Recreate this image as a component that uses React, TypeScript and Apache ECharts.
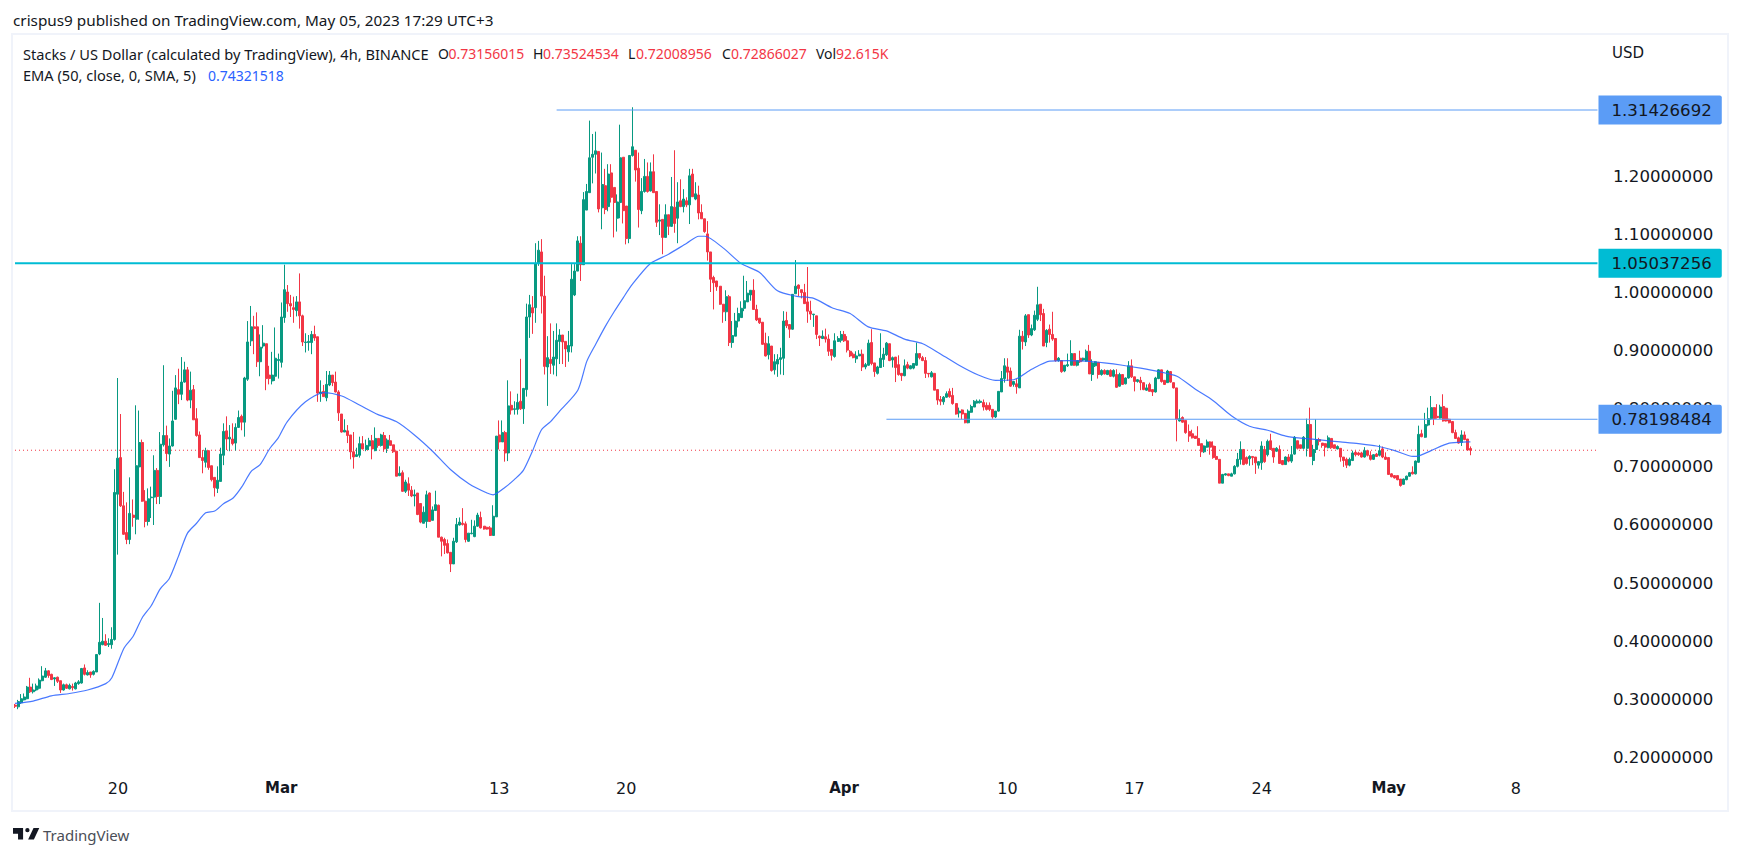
import React, { useEffect, useRef } from "react";
import * as echarts from "echarts";

// [open, close, low, high], one row for each 4h candle
const candlesFeb = [
[.290,.288,.285,.292],[.287,.296,.283,.299],[.294,.301,.292,.309],[.299,.304,.298,.310],[.301,.321,.300,.323],[.321,.313,.311,.337],[.313,.316,.310,.327],[.316,.323,.314,.327],[.319,.333,.317,.336],[.332,.340,.331,.357],
[.338,.349,.337,.354],[.349,.341,.337,.350],[.343,.334,.333,.344],[.335,.337,.323,.338],[.338,.331,.328,.339],[.332,.316,.311,.332],[.316,.325,.315,.327],[.325,.319,.318,.327],[.318,.324,.317,.327],[.322,.320,.315,.327],
[.318,.328,.317,.330],[.327,.330,.325,.333],[.328,.353,.327,.354],[.354,.343,.341,.360],[.342,.346,.341,.350],[.347,.342,.337,.347],[.343,.348,.341,.350],[.347,.377,.347,.378],[.378,.398,.376,.466],[.394,.400,.393,.440],
[.400,.393,.392,.412],[.394,.396,.390,.405],[.394,.403,.387,.424],[.403,.656,.401,.696],[.653,.715,.549,.853],[.716,.633,.631,.791],[.633,.584,.583,.657],[.587,.575,.567,.639],[.575,.620,.567,.682],[.617,.613,.597,.644],
[.610,.702,.584,.806],[.700,.742,.609,.797],[.742,.641,.640,.747],[.641,.606,.596,.660],[.606,.645,.599,.663],[.647,.648,.612,.666],[.648,.694,.600,.720],[.694,.649,.636,.698],[.649,.739,.636,.760],[.738,.754,.735,.875],
[.754,.723,.710,.771],[.722,.736,.700,.749],[.736,.779,.735,.831],[.782,.836,.781,.858],[.833,.825,.808,.869],[.825,.846,.815,.889],[.846,.867,.845,.881],[.867,.815,.813,.872],[.815,.832,.801,.864],[.833,.781,.781,.841],
[.783,.754,.752,.801],[.755,.716,.716,.761],[.716,.711,.689,.729],[.708,.728,.699,.733],[.728,.699,.695,.728],[.702,.678,.675,.702],[.682,.664,.649,.682],[.663,.677,.655,.701],[.675,.722,.675,.733],[.720,.761,.703,.775],
[.762,.748,.729,.787],[.748,.751,.727,.772],[.748,.740,.737,.775],[.741,.768,.728,.775],[.768,.785,.767,.797],[.787,.777,.763,.790],[.777,.853,.752,.855],[.851,.915,.848,.951],[.917,.941,.908,.977],[.941,.938,.894,.960],
[.941,.881,.872,.966],[.881,.906,.856,.928],[.908,.913,.904,.944],[.912,.852,.832,.912],[.858,.852,.842,.874],[.848,.858,.842,.898],[.856,.887,.848,.940],[.883,.885,.852,.895],
];
const candlesMar = [
[.880,.958,.871,.983],[.957,1.005,.948,1.048],[1.001,.981,.967,1.013],[.981,.977,.958,.996],[.974,.971,.948,.993],[.969,.984,.959,.994],[.984,.960,.938,1.033],[.960,.915,.908,.962],[.914,.915,.897,.930],[.914,.916,.900,.927],
[.914,.928,.894,.934],[.928,.922,.917,.943],[.924,.827,.812,.924],[.826,.829,.812,.849],[.830,.821,.821,.841],[.819,.842,.813,.865],[.841,.858,.839,.865],[.858,.845,.839,.858],[.846,.829,.828,.864],[.829,.793,.779,.832],
[.791,.760,.759,.791],[.760,.763,.760,.782],[.762,.754,.741,.772],[.755,.726,.713,.755],[.726,.717,.697,.760],[.718,.721,.717,.733],[.720,.740,.716,.752],[.740,.731,.730,.753],[.730,.737,.727,.747],[.736,.745,.729,.750],
[.745,.731,.713,.755],[.728,.749,.727,.768],[.749,.737,.733,.749],[.737,.755,.735,.757],[.754,.731,.726,.760],[.732,.746,.724,.749],[.745,.737,.737,.755],[.738,.726,.724,.738],[.727,.684,.684,.727],[.685,.689,.684,.701],
[.690,.658,.657,.694],[.658,.674,.655,.678],[.671,.660,.650,.682],[.660,.650,.648,.667],[.650,.652,.632,.661],[.655,.618,.617,.655],[.637,.605,.603,.637],[.603,.622,.603,.632],[.606,.652,.595,.659],[.655,.606,.606,.656],
[.608,.626,.608,.632],[.625,.635,.624,.659],[.634,.579,.579,.635],[.579,.572,.546,.580],[.575,.565,.550,.578],[.568,.552,.551,.575],[.553,.533,.519,.553],[.533,.572,.533,.578],[.571,.601,.569,.612],[.600,.605,.599,.613],
[.603,.601,.599,.629],[.602,.575,.570,.606],[.572,.586,.571,.586],[.585,.586,.584,.609],[.580,.598,.579,.608],[.598,.617,.597,.621],[.613,.595,.594,.623],[.598,.593,.592,.598],[.596,.593,.592,.597],[.595,.582,.581,.598],
[.582,.615,.582,.634],[.614,.753,.614,.753],[.755,.743,.730,.780],[.743,.759,.743,.780],[.759,.724,.709,.762],[.724,.805,.710,.849],[.806,.798,.790,.830],[.799,.800,.790,.813],[.799,.811,.790,.826],[.813,.800,.798,.886],
[.800,.835,.774,.836],[.833,.958,.821,.981],[.958,.979,.922,.996],[.974,.965,.929,.994],[.974,1.050,.948,1.085],[1.050,1.073,1.046,1.089],[1.070,.994,.964,1.092],[.994,.873,.859,1.029],[.872,.888,.805,.925],[.885,.878,.860,.947],
[.875,.889,.859,.934],[.886,.918,.856,.947],[.916,.927,.877,.937],[.927,.915,.877,.927],[.916,.903,.872,.916],[.898,.909,.881,.934],[.908,1.023,.897,1.049],[.996,1.037,.994,1.049],[1.037,1.089,1.037,1.097],[1.085,1.048,1.020,1.097],
[1.048,1.160,1.048,1.173],[1.142,1.174,1.142,1.187],[1.172,1.232,1.172,1.296],[1.233,1.238,1.188,1.273],[1.238,1.244,1.205,1.277],[1.243,1.144,1.138,1.243],[1.146,1.186,1.109,1.241],[1.184,1.143,1.135,1.213],[1.148,1.204,1.140,1.221],[1.206,1.164,1.155,1.221],
[1.181,1.155,1.095,1.181],[1.128,1.156,1.105,1.169],[1.155,1.232,1.128,1.289],[1.233,1.141,1.119,1.233],[1.149,1.093,1.083,1.149],[1.093,1.236,1.085,1.236],[1.236,1.251,1.234,1.319],[1.245,1.211,1.191,1.245],[1.214,1.143,1.112,1.241],[1.141,1.174,1.135,1.197],
[1.174,1.200,1.172,1.230],[1.200,1.174,1.172,1.224],[1.175,1.208,1.174,1.224],[1.208,1.172,1.172,1.238],[1.174,1.121,1.113,1.174],[1.123,1.125,1.099,1.152],[1.126,1.095,1.066,1.126],[1.095,1.134,1.095,1.152],[1.134,1.114,1.099,1.134],[1.114,1.148,1.113,1.199],
[1.147,1.119,1.103,1.245],[1.128,1.156,1.085,1.190],[1.158,1.148,1.147,1.195],[1.148,1.161,1.138,1.178],[1.158,1.151,1.147,1.164],[1.151,1.201,1.118,1.213],[1.204,1.165,1.165,1.213],[1.161,1.170,1.159,1.190],[1.168,1.137,1.126,1.184],[1.138,1.127,1.127,1.152],
[1.127,1.105,1.103,1.127],[1.101,1.070,1.055,1.123],[1.070,1.023,1.001,1.070],[1.026,1.017,.971,1.029],[1.020,1.010,1.003,1.020],[1.011,.980,.979,1.011],[.980,.967,.948,.980],[.967,.993,.951,1.004],[.993,.914,.908,.996],[.914,.926,.905,.951],
[.925,.951,.925,.965],[.951,.964,.940,.974],[.957,.973,.957,.985],[.973,.986,.968,1.029],[.984,.999,.984,1.020],[.996,1.004,.986,1.004],[1.004,.971,.971,1.023],[.971,.953,.951,.979],[.956,.948,.946,.956],[.949,.911,.910,.949],
[.913,.891,.890,.931],[.893,.912,.885,.925],[.908,.866,.864,.908],[.867,.881,.859,.894],[.877,.885,.855,.894],[.885,.888,.859,.905],[.887,.951,.858,.968],[.952,.943,.939,.967],[.945,.937,.922,.945],[.937,.997,.936,.997],
[.998,1.011,.998,1.056],[1.013,1.007,.994,1.014],[1.005,1.000,.990,1.005],[1.000,.981,.981,1.015],[.984,.968,.948,1.044],[.968,.963,.953,.986],
];
const candlesApr = [
[.962,.963,.941,.963],[.960,.928,.920,.960],[.925,.922,.908,.926],[.921,.925,.920,.935],[.924,.920,.914,.938],[.920,.899,.891,.928],[.902,.892,.883,.902],[.890,.917,.888,.930],[.916,.921,.915,.925],[.918,.928,.914,.934],
[.928,.917,.915,.934],[.917,.901,.897,.925],[.899,.891,.889,.901],[.894,.888,.887,.897],[.886,.891,.879,.899],[.891,.894,.891,.901],[.894,.872,.865,.902],[.872,.876,.868,.879],[.875,.913,.874,.919],[.914,.878,.875,.937],
[.879,.864,.855,.879],[.861,.872,.859,.874],[.871,.887,.871,.930],[.885,.894,.872,.905],[.893,.913,.891,.915],[.912,.883,.882,.912],[.884,.888,.871,.890],[.889,.871,.846,.889],[.876,.859,.857,.892],[.861,.857,.848,.861],
[.857,.874,.856,.885],[.876,.870,.868,.881],[.869,.874,.868,.875],[.870,.878,.868,.878],[.875,.895,.874,.914],[.895,.888,.885,.895],[.888,.883,.882,.891],[.883,.861,.853,.889],[.861,.860,.854,.861],[.855,.862,.854,.865],
[.861,.832,.832,.861],[.833,.815,.807,.833],[.816,.813,.806,.822],[.812,.820,.807,.822],[.820,.826,.819,.830],[.830,.821,.819,.835],[.823,.809,.807,.836],[.809,.791,.790,.809],[.793,.796,.785,.802],[.798,.791,.782,.799],
[.792,.776,.775,.793],[.776,.796,.775,.799],[.794,.804,.793,.807],[.803,.813,.803,.815],[.810,.813,.809,.816],[.811,.813,.809,.816],[.811,.803,.797,.816],[.806,.799,.797,.811],[.806,.799,.796,.811],[.799,.786,.783,.799],
[.786,.796,.784,.796],[.796,.830,.795,.830],[.829,.852,.829,.865],[.852,.874,.845,.887],[.872,.863,.848,.887],[.865,.839,.838,.871],[.842,.847,.838,.848],[.843,.838,.826,.851],[.836,.925,.836,.936],[.925,.916,.902,.934],
[.915,.960,.908,.963],[.962,.927,.922,.962],[.927,.938,.925,.945],[.936,.961,.934,.969],[.954,.979,.951,1.010],[.980,.962,.951,.980],[.964,.908,.908,.972],[.914,.935,.906,.937],[.937,.928,.914,.945],[.928,.920,.917,.967],
[.921,.883,.881,.921],[.883,.887,.881,.889],[.883,.864,.862,.883],[.865,.875,.863,.875],[.874,.876,.872,.895],[.875,.895,.875,.918],[.895,.875,.874,.895],[.875,.883,.873,.883],[.887,.881,.879,.900],[.884,.887,.882,.888],
[.882,.899,.881,.902],[.899,.860,.860,.910],[.859,.879,.848,.885],[.874,.881,.872,.882],[.880,.859,.852,.880],[.859,.866,.857,.868],[.866,.860,.859,.868],[.859,.866,.858,.867],[.866,.856,.855,.868],[.856,.866,.854,.868],
[.859,.837,.836,.868],[.839,.859,.838,.862],[.859,.842,.841,.859],[.843,.853,.842,.854],[.853,.874,.852,.882],[.874,.855,.853,.885],[.855,.847,.830,.855],[.847,.850,.845,.851],[.849,.845,.832,.855],[.845,.833,.832,.845],
[.832,.836,.831,.842],[.842,.830,.830,.845],[.833,.829,.822,.833],[.829,.853,.828,.855],[.852,.867,.851,.868],[.867,.847,.845,.867],[.849,.842,.841,.849],[.845,.865,.845,.867],[.864,.846,.845,.865],[.845,.836,.835,.845],
[.836,.782,.744,.836],[.779,.783,.778,.799],[.785,.777,.776,.787],[.780,.759,.757,.780],[.761,.753,.743,.773],[.757,.750,.749,.764],[.753,.749,.748,.753],[.749,.737,.737,.770],[.740,.726,.717,.740],[.726,.736,.724,.737],
[.734,.743,.733,.747],[.743,.734,.721,.744],[.736,.716,.714,.744],[.718,.713,.712,.736],[.713,.672,.672,.713],[.672,.687,.672,.688],[.686,.688,.685,.689],[.688,.685,.684,.688],[.684,.688,.684,.690],[.688,.701,.687,.703],
[.701,.713,.699,.724],[.713,.730,.704,.744],[.730,.704,.703,.730],[.716,.706,.704,.718],[.714,.718,.702,.720],[.718,.716,.703,.718],[.717,.707,.688,.717],[.703,.709,.697,.710],[.707,.736,.695,.744],[.730,.709,.707,.736],
[.721,.744,.718,.747],[.745,.730,.730,.757],[.732,.717,.707,.732],[.727,.732,.726,.734],[.730,.706,.705,.737],[.711,.704,.703,.711],[.704,.717,.704,.718],[.717,.710,.708,.722],[.710,.721,.707,.736],[.722,.751,.721,.753],
[.745,.732,.730,.745],[.738,.732,.731,.738],[.732,.751,.730,.753],[.732,.773,.718,.783],[.773,.718,.717,.802],[.711,.730,.703,.738],[.730,.747,.724,.782],[.747,.744,.737,.750],[.741,.737,.733,.741],[.740,.734,.718,.741],
[.733,.750,.732,.754],[.749,.733,.731,.749],[.738,.732,.731,.738],[.731,.735,.730,.737],[.732,.717,.709,.732],[.717,.711,.700,.717],[.713,.703,.698,.716],[.703,.713,.701,.716],[.711,.724,.710,.728],[.725,.721,.718,.728],
[.724,.721,.719,.726],[.724,.717,.716,.726],[.717,.728,.716,.734],[.728,.720,.718,.728],[.720,.713,.711,.727],[.713,.721,.712,.722],[.722,.718,.717,.724],[.720,.728,.718,.738],
];
const candlesMay = [
[.731,.717,.715,.735],[.717,.713,.712,.725],[.716,.687,.686,.716],[.688,.683,.682,.689],[.685,.681,.680,.686],[.685,.678,.677,.685],[.679,.668,.666,.679],[.670,.679,.669,.680],[.678,.684,.677,.685],[.684,.690,.683,.691],
[.691,.688,.687,.701],[.688,.710,.687,.711],[.708,.756,.707,.771],[.757,.752,.751,.764],[.751,.773,.750,.793],[.772,.783,.770,.802],[.783,.802,.781,.822],[.802,.783,.772,.803],[.787,.785,.783,.808],[.784,.803,.783,.807],
[.804,.779,.778,.825],[.801,.779,.778,.802],[.782,.776,.775,.783],[.778,.759,.758,.779],[.759,.749,.748,.764],[.750,.741,.740,.752],[.742,.755,.736,.763],[.755,.747,.746,.761],[.748,.729,.728,.748],[.73156015,.72866027,.72008956,.73524534],
];

const emaIndex = [0,6,12,18,24,30,32,36,39,42,45,48,51,54,57,60,63,66,69,72,75,78,81,84,87,90,96,102,108,114,120,126,132,138,144,150,156,158,162,165,168,171,174,177,180,186,189,192,195,198,201,204,210,216,222,226,228,234,240,246,252,258,264,270,276,282,288,294,300,306,312,318,324,330,336,342,348,354,360,366,372,378,384,390,396,402,408,414,420,426,432,438,444,450,456,462,464,468,474,480,481];
const emaValues = [.293,.297,.306,.310,.316,.327,.337,.388,.408,.440,.461,.490,.508,.546,.586,.603,.621,.624,.637,.646,.666,.692,.704,.730,.750,.778,.812,.828,.822,.806,.790,.778,.755,.727,.695,.671,.655,.652,.665,.678,.694,.727,.764,.778,.796,.832,.882,.912,.941,.967,.991,1.014,1.050,1.066,1.085,1.097,1.097,1.077,1.050,1.035,1.003,.994,.990,.974,.964,.941,.934,.920,.912,.894,.875,.859,.849,.850,.868,.882,.883,.882,.879,.875,.870,.864,.856,.834,.814,.788,.770,.763,.753,.749,.746,.743,.740,.736,.728,.718,.719,.728,.741,.743,.74321518];

const priceTicks = [0.2, 0.3, 0.4, 0.5, 0.6, 0.7, 0.8, 0.9, 1.0, 1.1, 1.2];
const dateTickIndex = [34, 88, 160, 202, 274, 328, 370, 412, 454, 496];
const dateTickLabels = ["20", "{b|Mar}", "13", "20", "{b|Apr}", "10", "17", "24", "{b|May}", "8"];
const levelHigh = 1.31426692;
const levelCyan = 1.05037256;
const levelLow = 0.78198484;
const lastClose = 0.72866027;

const LOGO_PATH = "M14 6H0v8h7v8h7V6Zm15 16h-8l7.5-16h8L29 22ZM23 9a3 3 0 1 1-6 0 3 3 0 0 1 6 0Z";
const SLOT_COUNT = 524;
const PRICE_FONT = "'DejaVu Sans'";
const TEXT_FONT = "'Noto Sans'";
const DARK = "#131722";
const RED = "#f23645";
const GREEN = "#089981";

export default function App() {
  const ref = useRef<HTMLDivElement>(null);
  useEffect(() => {
    document.body.style.margin = "0";
    const chart = echarts.init(ref.current!, undefined, { renderer: "svg" });
    echarts.graphic.registerShape("tvlogo", (echarts.graphic as any).extendPath(LOGO_PATH, {}));

    const candles = [...candlesFeb, ...candlesMar, ...candlesApr, ...candlesMay];
    const categories = Array.from({ length: SLOT_COUNT }, (_, i) => String(i));
    const lastSlot = SLOT_COUNT - 1;

    const level = (name: string, start: number, value: number, color: string, width: number) => ({
      name,
      type: "line",
      data: [[start, value], [lastSlot, value]],
      showSymbol: false,
      symbol: "none",
      silent: true,
      z: 3,
      lineStyle: { color, width },
      endLabel: {
        show: true,
        distance: 1,
        formatter: () => value.toFixed(8),
        color: DARK,
        fontFamily: PRICE_FONT,
        fontSize: 16.6,
        backgroundColor: color,
        padding: [6, 10, 6, 13],
        borderRadius: [0, 2, 2, 0],
      },
    });

    const legendText = (x: number, text: string, fill: string, size = 14) => ({
      type: "text",
      x,
      y: 53.5,
      style: { text, fill, font: `${size}px ${TEXT_FONT}`, textVerticalAlign: "middle" },
    });

    chart.setOption({
      animation: false,
      backgroundColor: "#ffffff",
      grid: { left: 13.5, right: 143, top: 35, bottom: 86 },
      xAxis: {
        type: "category",
        data: categories,
        boundaryGap: true,
        axisLine: { show: false },
        axisTick: { show: false },
        splitLine: { show: false },
        axisLabel: {
          interval: (i: number) => dateTickIndex.includes(i),
          formatter: (v: string) => dateTickLabels[dateTickIndex.indexOf(Number(v))] ?? "",
          color: DARK,
          fontFamily: PRICE_FONT,
          fontSize: 16,
          margin: 10,
          rich: { b: { fontFamily: PRICE_FONT, fontSize: 15, fontWeight: "bold", color: DARK } },
        },
      },
      yAxis: {
        type: "value",
        position: "right",
        min: 0.17831,
        max: 1.44336,
        axisLine: { show: false },
        axisTick: { show: false },
        splitLine: { show: false },
        axisLabel: {
          customValues: priceTicks,
          formatter: (v: number) => v.toFixed(8),
          color: DARK,
          fontFamily: PRICE_FONT,
          fontSize: 16.6,
          margin: 14,
        },
      },
      series: [
        {
          name: "Last price",
          type: "line",
          data: [[0, lastClose], [lastSlot, lastClose]],
          symbol: "none",
          silent: true,
          z: 1,
          lineStyle: { color: RED, width: 1, type: [1, 3] },
        },
        {
          name: "STX/USD",
          type: "candlestick",
          data: candles,
          barWidth: 2.5,
          z: 2,
          itemStyle: { color: GREEN, color0: RED, borderColor: GREEN, borderColor0: RED, borderWidth: 1 },
        },
        {
          name: "EMA 50",
          type: "line",
          data: emaIndex.map((x, i) => [x, emaValues[i]]),
          symbol: "none",
          smooth: 0.25,
          silent: true,
          z: 3,
          lineStyle: { color: "#2962ff", width: 1.2, opacity: 0.85 },
        },
        level("High level", 179, levelHigh, "#5b9cf6", 1),
        level("Resistance", 0, levelCyan, "#00bcd4", 2),
        level("Support", 288, levelLow, "#5b9cf6", 1),
      ],
      graphic: [
        { type: "rect", shape: { x: 12, y: 34, width: 1716, height: 777 }, style: { fill: "none", stroke: "#f0f3fa", lineWidth: 2 }, z: -1 },
        { type: "text", x: 13, y: 20, style: { text: "crispus9 published on TradingView.com, May 05, 2023 17:29 UTC+3", fill: DARK, font: `15.3px ${TEXT_FONT}`, textVerticalAlign: "middle" } },
        legendText(23, "Stacks / US Dollar (calculated by TradingView), 4h, BINANCE", DARK, 14.6),
        legendText(438, "O", DARK),
        legendText(448.5, "0.73156015", RED),
        legendText(533, "H", DARK),
        legendText(543, "0.73524534", RED),
        legendText(628, "L", DARK),
        legendText(636, "0.72008956", RED),
        legendText(722, "C", DARK),
        legendText(731, "0.72866027", RED),
        legendText(816, "Vol", DARK),
        legendText(836, "92.615K", RED),
        { type: "text", x: 23, y: 75, style: { text: "EMA (50, close, 0, SMA, 5)", fill: DARK, font: `14.6px ${TEXT_FONT}`, textVerticalAlign: "middle" } },
        { type: "text", x: 208, y: 75, style: { text: "0.74321518", fill: "#2962ff", font: `14px ${TEXT_FONT}`, textVerticalAlign: "middle" } },
        { type: "text", x: 1612, y: 53, style: { text: "USD", fill: DARK, font: `15px ${PRICE_FONT}`, textVerticalAlign: "middle" } },
        { type: "tvlogo", x: 13, y: 823.7, scaleX: 0.72, scaleY: 0.72, style: { fill: DARK } },
        { type: "text", x: 43, y: 835, style: { text: "TradingView", fill: "#4a4e57", font: `15px ${TEXT_FONT}`, textVerticalAlign: "middle" } },
      ],
    });
    return () => chart.dispose();
  }, []);
  return <div ref={ref} style={{ width: 1742, height: 856 }} />;
}
